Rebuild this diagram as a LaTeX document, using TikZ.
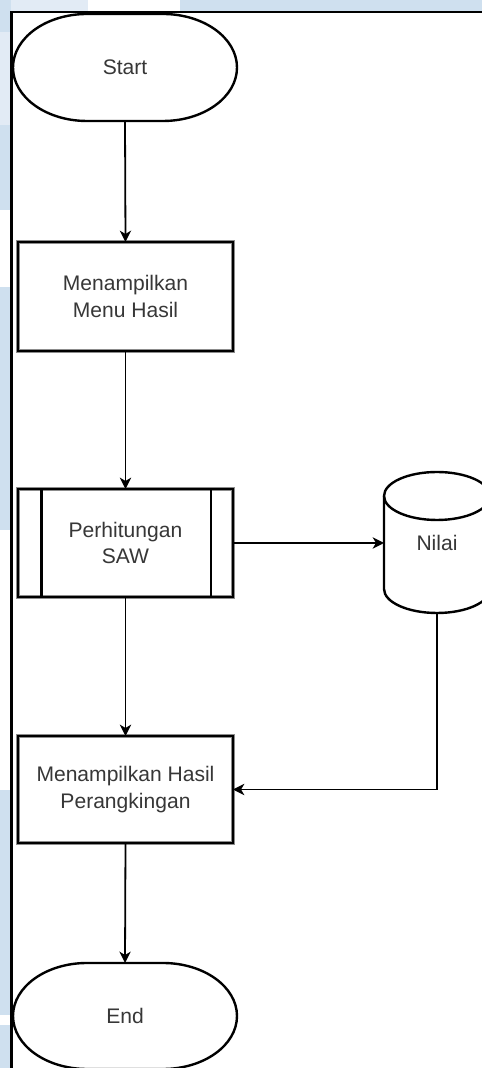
\documentclass[tikz,border=0pt]{standalone}
\usepackage{fontspec}
\setmainfont{Liberation Sans}
\usetikzlibrary{arrows.meta,calc}
\definecolor{bgblue}{RGB}{207,224,239}
\definecolor{bglight}{RGB}{226,235,245}
\definecolor{txt}{RGB}{55,55,55}
\begin{document}
\begin{tikzpicture}[x=0.75pt,y=0.75pt,
  lbl/.style={font=\fontsize{15.8}{19.9}\selectfont, text=txt, align=center, inner sep=0pt, outer sep=0pt},
  box/.style={lbl, rectangle, minimum width=161.25pt, minimum height=81pt,
    draw=black!45, line width=3.2pt, preaction={fill=white},
    postaction={draw=black, line width=1.7pt}},
  conn/.style={line width=1.35pt, -{Stealth[length=8.5pt,width=8.5pt,inset=2.5pt]}},
  shp/.style={line width=1.8pt, black}
]
\useasboundingbox (0,0) rectangle (482,1068);
% background watermark
\fill[white] (0,0) rectangle (482,1068);
\fill[bglight] (0,1057) rectangle (88,1068);
\fill[bgblue] (180,1057) rectangle (482,1068);
\fill[bgblue] (0,1036) rectangle (11,1068);
\fill[bglight] (0,943) rectangle (11,1036);
\fill[bgblue] (0,858) rectangle (11,943);
\fill[bgblue] (0,538) rectangle (11,781);
\fill[bgblue] (0,53) rectangle (11,278);
\fill[bgblue] (0,0) rectangle (11,43);
% frame
\fill[white] (11.5,-10) rectangle (495,1056);
\draw[line width=1.6pt] (11.5,-10) |- (495,1056);

% Start terminal
\node[lbl, minimum width=168pt, minimum height=80.25pt] (start) at (125,1000.5) {Start};
\draw[shp] ($(start.north)+(-38,0)$) -- ($(start.north)+(38,0)$)
  arc[start angle=90,end angle=-90,x radius=74,y radius=53.5]
  -- ($(start.south)+(-38,0)$)
  arc[start angle=270,end angle=90,x radius=74,y radius=53.5] -- cycle;

% boxes
\node[box, minimum height=81.75pt] (menu) at (125.5,771.5) {Menampilkan\\Menu Hasil};
\node[box] (saw) at (125.5,525) {Perhitungan\\SAW};
\draw[shp] ($(saw.north west)+(23.5,0)$) -- ($(saw.south west)+(23.5,0)$);
\draw[shp] ($(saw.north east)+(-22,0)$) -- ($(saw.south east)+(-22,0)$);
\node[box, minimum height=80.25pt] (hasil) at (125.5,278.5) {Menampilkan Hasil\\Perangkingan};

% Nilai cylinder
\node[lbl, minimum width=79.5pt, minimum height=105.75pt] (nilai) at (437,525.5) {Nilai};
\draw[shp] ($(nilai.north west)+(0,-24)$) -- ($(nilai.south west)+(0,24)$)
  arc[start angle=180,end angle=360,x radius=53,y radius=24]
  -- ($(nilai.north east)+(0,-24)$)
  arc[start angle=0,end angle=180,x radius=53,y radius=24];
\draw[shp] ($(nilai.north west)+(0,-24)$)
  arc[start angle=180,end angle=360,x radius=53,y radius=24];

% End terminal
\node[lbl, minimum width=168pt, minimum height=79.5pt] (end) at (125,52) {End};
\draw[shp] ($(end.north)+(-38,0)$) -- ($(end.north)+(38,0)$)
  arc[start angle=90,end angle=-90,x radius=74,y radius=53]
  -- ($(end.south)+(-38,0)$)
  arc[start angle=270,end angle=90,x radius=74,y radius=53] -- cycle;

% connectors
\draw[conn] (start.south) -- (menu.north);
\draw[conn] (menu.south) -- (saw.north);
\draw[conn] (saw.east) -- (saw.east -| nilai.west);
\draw[conn] (saw.south) -- (hasil.north);
\draw[conn] (nilai.south) |- (hasil.east);
\draw[conn] (hasil.south) -- (end.north);
\end{tikzpicture}
\end{document}
